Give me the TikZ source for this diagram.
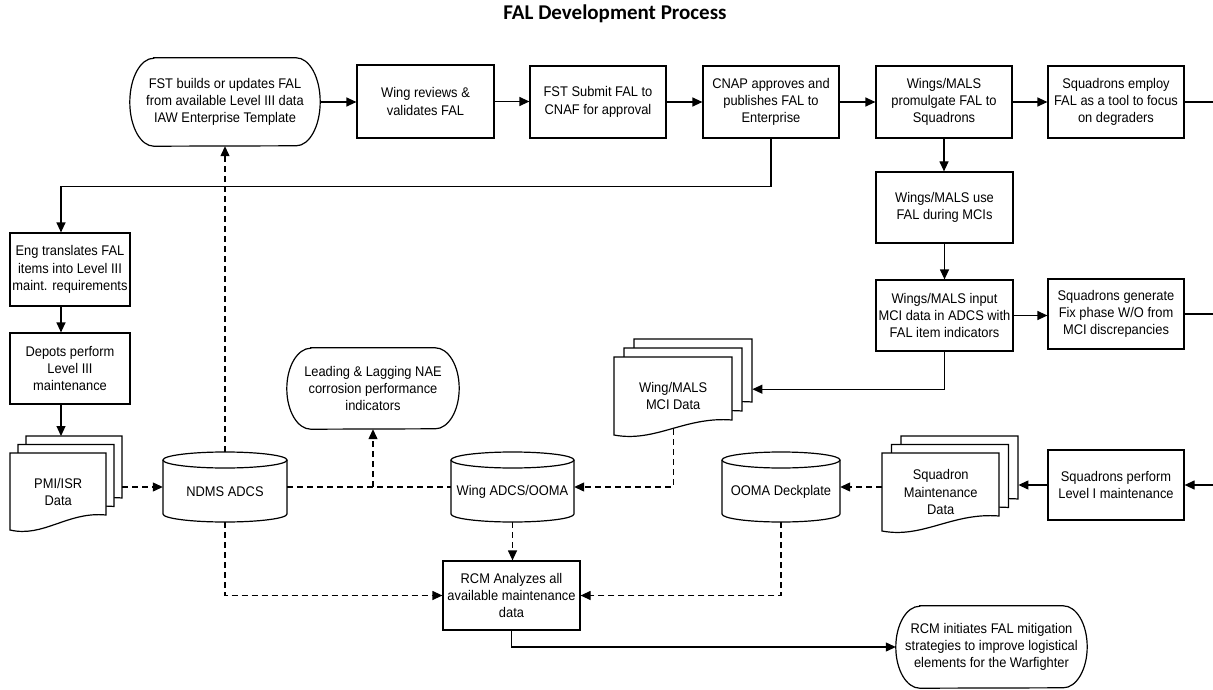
\documentclass[tikz,border=0pt]{standalone}
\usepackage{fontspec}
\setmainfont{Liberation Sans}[FakeStretch=0.92]
\newfontfamily\titlefont{Carlito}
\usetikzlibrary{arrows.meta}

% process step: name, cx, cy, width, height, text
\newcommand\procbox[6]{%
  \node[proc, minimum width=#4pt, minimum height=#5pt] (#1) at (#2,#3) {#6};}

% terminator with elliptic ends: name, cx, cy, width, height, text
\newcommand\termbox[6]{%
  \node[ghost, minimum width=#4pt, minimum height=#5pt] (#1) at (#2,#3) {#6};
  \draw[plain] ([xshift=24pt]#1.north west) -- ([xshift=-24pt]#1.north east)
    arc[start angle=-90, end angle=90, x radius=24, y radius=#5/2]
    -- ([xshift=24pt]#1.south west)
    arc[start angle=90, end angle=270, x radius=24, y radius=#5/2] -- cycle;}

% database cylinder, 70 high: name, cx, cy, width, text
\newcommand\dbcyl[5]{%
  \fill[white] ({#2-#4/2},{#3-27}) -- ({#2-#4/2},{#3+27})
     arc[start angle=180, end angle=0, x radius=#4/2, y radius=8]
     -- ({#2+#4/2},{#3-27}) -- cycle;
  \draw[plain] ({#2-#4/2},{#3-27}) -- ({#2-#4/2},{#3+27})
     arc[start angle=180, end angle=0, x radius=#4/2, y radius=8]
     -- ({#2+#4/2},{#3-27});
  \draw[plain, fill=white] (#2,{#3-27}) ellipse [x radius=#4/2, y radius=8];
  \node[ghost, minimum width=#4pt, minimum height=70pt] (#1) at (#2,#3) {};
  \node (#1-label) at (#2,{#3+5}) {#5};}

% one document sheet with a wavy lower edge: x, y, width, height
\newcommand\sheet[4]{%
  \draw[plain, fill=white] (#1,#2) -- ({#1+#3},#2) -- ({#1+#3},{#2+#4-15})
    .. controls ({#1+0.6*#3},{#2+#4-18.75}) and ({#1+0.35*#3},{#2+#4+7.8})
    .. (#1,{#2+#4}) -- cycle;}

% stack of three documents: name, x, y (front sheet top left), width, height, dx, dy, text
\newcommand\docstack[8]{%
  \sheet{#2+2*#6}{#3-2*#7}{#4}{#5}
  \sheet{#2+#6}{#3-#7}{#4}{#5}
  \sheet{#2}{#3}{#4}{#5}
  \node[ghost, anchor=north west, minimum width=#4pt, minimum height=#5pt]
    (#1-b) at ({#2+2*#6},{#3-2*#7}) {};
  \node[ghost, anchor=north west, minimum width=#4pt, minimum height=#5pt]
    (#1-m) at ({#2+#6},{#3-#7}) {};
  \node[ghost, anchor=north west, minimum width=#4pt, minimum height=#5pt]
    (#1) at (#2,#3) {#8};}

\begin{document}
\begin{tikzpicture}[x=1pt,y=-1pt,
  every node/.style={font=\fontsize{14}{17.3}\selectfont, align=center, inner sep=0pt},
  proc/.style={draw=black, line width=1.2pt, rectangle, fill=white},
  ghost/.style={rectangle, draw=none},
  plain/.style={line width=1.2pt},
  flow/.style={line width=1.2pt, -{Triangle[length=10pt,width=9pt]}},
  dflow/.style={flow, dash pattern=on 6pt off 4pt},
  dline/.style={line width=1.2pt, dash pattern=on 6pt off 4pt}]

\useasboundingbox (0,0) rectangle (1213,690);

\node[font=\titlefont\bfseries\fontsize{21}{24}\selectfont] (title) at (615,14) {FAL Development Process};

% top row
\termbox{fst}{225}{102}{190}{88}{FST builds or updates FAL\\from available Level III data\\IAW Enterprise Template}
\procbox{wrev}{425.5}{101.5}{137}{73}{Wing reviews \&\\validates FAL}
\procbox{fsub}{598}{102}{136}{72}{FST Submit FAL to\\CNAF for approval}
\procbox{cnap}{771}{102}{136}{72}{CNAP approves and\\publishes FAL to\\Enterprise}
\procbox{prom}{944}{102}{136}{72}{Wings/MALS\\promulgate FAL to\\Squadrons}
\procbox{employ}{1116}{102}{136}{72}{Squadrons employ\\FAL as a tool to focus\\on degraders}

% right column
\procbox{wuse}{944.5}{207.5}{137}{71}{Wings/MALS use\\FAL during MCIs}
\procbox{winput}{944.5}{315.5}{137}{71}{Wings/MALS input\\MCI data in ADCS with\\FAL item indicators}
\procbox{sqgen}{1116}{314}{136}{70}{Squadrons generate\\Fix phase W/O from\\MCI discrepancies}
\procbox{sqperf}{1116}{485}{136}{70}{Squadrons perform\\Level I maintenance}

% left column
\procbox{eng}{70}{269.5}{120}{73}{Eng translates FAL\\items into Level III\\maint. requirements}
\procbox{depots}{70}{368.5}{120}{71}{Depots perform\\Level III\\maintenance}

% data stores and documents
\docstack{pmi}{10}{453}{96}{77}{8}{8.5}{PMI/ISR\\Data}
\docstack{mci}{614}{357}{118}{78}{10}{9}{Wing/MALS\\MCI Data}
\docstack{sqmaint}{882}{453}{117}{78}{9.5}{8.5}{Squadron\\Maintenance\\Data}
\dbcyl{ndms}{225}{487}{124}{NDMS ADCS}
\dbcyl{wadcs}{512.5}{487}{123}{Wing ADCS/OOMA}
\dbcyl{ooma}{781}{487}{118}{OOMA Deckplate}

\termbox{lead}{373}{388.5}{172}{81}{Leading \& Lagging NAE\\corrosion performance\\indicators}
\procbox{rcm}{511.5}{595.5}{137}{69}{RCM Analyzes all\\available maintenance\\data}
\termbox{rcmi}{991.5}{647}{191}{82}{RCM initiates FAL mitigation\\strategies to improve logistical\\elements for the Warfighter}

% page-edge continuation point
\coordinate (edge) at (1213,0);
\coordinate (depout) at ([xshift=-9pt]depots.south);

% solid flow
\draw[flow] (fst.east) -- (fst.east -| wrev.west);
\draw[flow] (wrev.east) -- (wrev.east -| fsub.west);
\draw[flow] (fsub.east) -- (cnap.west);
\draw[flow] (cnap.east) -- (prom.west);
\draw[flow] (prom.east) -- (employ.west);
\draw[plain] (employ.east) -- (employ.east -| edge);
\draw[flow] (cnap.south) -- ++(0,48) -| ([xshift=-9pt]eng.north);
\draw[flow] ([xshift=-9pt]eng.south) -- ([xshift=-9pt]depots.north);
\draw[flow] (depout) -- (depout |- pmi-b.north);
\draw[flow] (prom.south) -- (prom.south |- wuse.north);
\draw[flow] (wuse.south) -- (winput.north);
\draw[flow] (winput.east) -- (winput.east -| sqgen.west);
\draw[plain] (sqgen.east) -- (sqgen.east -| edge);
\draw[flow] (winput.south) |- ([yshift=-11pt]mci-b.east);
\draw[flow] (sqperf.east -| edge) -- (sqperf.east);
\draw[flow] (sqperf.west) -- (sqperf.west -| sqmaint-b.east);
\draw[flow] (rcm.south) |- (rcmi.west);

% data flow
\draw[dflow] (ndms.west -| pmi-b.east) -- (ndms.west);
\draw[dflow] (ndms.north) -- (fst.south);
\draw[dline] (ndms.east) -- (wadcs.west);
\draw[dflow] (ndms.east -| lead.south) -- (lead.south);
\draw[dflow] ([yshift=6pt]mci.south) |- (wadcs.east);
\draw[dflow] (ooma.east -| sqmaint.west) -- (ooma.east);
\draw[dflow] (ndms.south) |- (rcm.west);
\draw[dflow] (wadcs.south) -- (wadcs.south |- rcm.north);
\draw[dflow] (ooma.south) |- (rcm.east);
\end{tikzpicture}
\end{document}
